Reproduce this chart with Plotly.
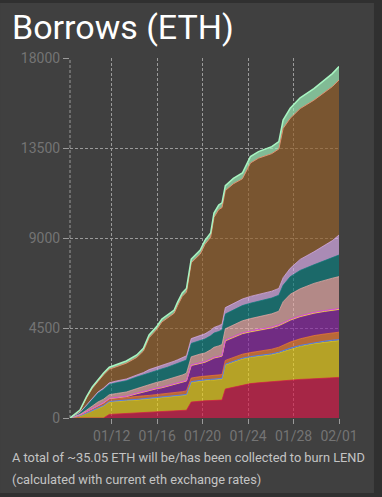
import plotly.graph_objects as go

# ---- data ----
dates = [
    "2020-01-08 08:00", "2020-01-08 17:00", "2020-01-09 05:00", "2020-01-09 19:00",
    "2020-01-10 07:00", "2020-01-10 19:00", "2020-01-11 07:00", "2020-01-11 19:00",
    "2020-01-12 10:00", "2020-01-13 07:00", "2020-01-14 05:00", "2020-01-14 19:00",
    "2020-01-15 07:00", "2020-01-16 00:00", "2020-01-16 10:00", "2020-01-16 22:00",
    "2020-01-17 12:00", "2020-01-17 19:00", "2020-01-18 05:00", "2020-01-18 14:00",
    "2020-01-19 00:00", "2020-01-19 19:00", "2020-01-20 05:00", "2020-01-20 17:00",
    "2020-01-21 00:00", "2020-01-21 10:00", "2020-01-21 17:00", "2020-01-22 00:00",
    "2020-01-22 17:00", "2020-01-23 12:00", "2020-01-24 05:00", "2020-01-24 22:00",
    "2020-01-25 12:00", "2020-01-26 02:00", "2020-01-26 17:00", "2020-01-27 02:00",
    "2020-01-27 17:00", "2020-01-28 14:00", "2020-01-29 19:00", "2020-01-30 17:00",
    "2020-01-31 10:00", "2020-02-01 00:00",
]

red = [0, 0, 0, 0, 0, 0, 0, 180, 200, 220, 240, 260, 270, 290, 300, 320, 340, 350, 370, 390,
       800, 850, 860, 870, 880, 890, 900, 1450, 1530, 1650, 1720, 1760, 1790, 1820, 1850, 1870,
       1900, 1930, 1960, 1990, 2010, 2030]
yellow = [0, 40, 100, 230, 360, 500, 600, 620, 640, 650, 660, 670, 680, 690, 700, 710, 720, 730,
          740, 750, 980, 1000, 1010, 1020, 1025, 1030, 1040, 1200, 1270, 1300, 1310, 1320, 1330,
          1350, 1400, 1450, 1550, 1650, 1760, 1800, 1830, 1840]
blue = [0, 5, 10, 15, 20, 20, 25, 25, 25, 30, 30, 30, 30, 30, 30, 30, 35, 35, 35, 35,
        40, 40, 40, 40, 40, 40, 40, 40, 40, 40, 40, 40, 40, 40, 40, 45, 45, 50, 50, 50, 50, 50]
orange = [0, 10, 30, 60, 80, 100, 110, 120, 120, 130, 140, 150, 150, 160, 160, 170, 170, 170,
          170, 180, 180, 180, 180, 180, 180, 185, 190, 190, 190, 200, 200, 210, 220, 230, 250,
          270, 300, 330, 350, 360, 365, 370]
purple = [0, 0, 0, 0, 0, 0, 0, 0, 0, 20, 120, 170, 230, 280, 300, 330, 380, 400, 430, 470,
          600, 650, 670, 780, 850, 880, 900, 950, 980, 1000, 1010, 1020, 1030, 1040, 1050, 1060,
          1070, 1080, 1090, 1100, 1105, 1110]
gold = [0, 3, 5, 10, 12, 15, 18, 20, 20, 20, 25, 25, 25, 25, 25, 25, 28, 28, 28, 28,
        30, 30, 30, 30, 30, 30, 30, 35, 35, 35, 35, 35, 35, 35, 35, 35, 35, 35, 35, 35, 35, 35]
magenta = [0, 2, 5, 10, 13, 15, 17, 20, 20, 20, 25, 25, 25, 25, 25, 25, 27, 27, 27, 27,
           30, 30, 30, 30, 30, 30, 30, 35, 35, 35, 35, 35, 35, 35, 35, 35, 35, 35, 35, 35, 35, 35]
rose = [0, 10, 30, 70, 120, 150, 170, 180, 200, 210, 230, 250, 280, 290, 300, 310, 330, 340,
        350, 360, 400, 420, 430, 460, 500, 520, 540, 560, 580, 600, 620, 640, 650, 660, 680,
        1050, 1250, 1350, 1450, 1520, 1560, 1600]
teal = [0, 30, 80, 220, 345, 440, 490, 515, 535, 560, 580, 580, 590, 610, 615, 620, 630, 640,
        650, 660, 670, 700, 700, 700, 710, 720, 730, 740, 750, 760, 770, 780, 790, 790, 800,
        820, 880, 920, 930, 980, 1030, 1080]
lavender = [0, 10, 20, 35, 50, 60, 70, 80, 90, 90, 100, 110, 140, 150, 160, 170, 180, 190, 200,
            210, 240, 250, 260, 270, 280, 290, 290, 320, 330, 330, 340, 340, 340, 340, 340, 380,
            420, 550, 650, 760, 850, 1000]
brown = [0, 50, 80, 360, 480, 520, 660, 680, 710, 790, 880, 1080, 1590, 1900, 2185, 2280, 2400,
         2700, 3080, 3190, 3790, 4050, 4470, 4660, 5505, 5805, 5830, 5850, 5970, 6010, 6670, 6810,
         6850, 6880, 6970, 7465, 7500, 7540, 7580, 7640, 7700, 7750]
mint = [0, 20, 40, 60, 70, 80, 90, 100, 100, 110, 120, 130, 140, 150, 150, 160, 160, 170, 170,
        180, 190, 200, 200, 210, 220, 230, 240, 250, 270, 290, 320, 330, 340, 350, 370, 420, 500,
        540, 580, 620, 650, 670]

y_ticks = [0, 4500, 9000, 13500, 18000]
y_tick_labels = ["0", "4500", "9000", "13500", "18000"]
title_text = "Borrows (ETH)"
note_line1 = "A total of ~35.05 ETH will be/has been collected to burn LEND"
note_line2 = "(calculated with current eth exchange rates)"

# ---- styles ----
layers = [
    (red, "rgba(218,24,73,0.66)", "rgba(218,24,73,0.9)", 0.8),
    (yellow, "rgba(242,212,24,0.66)", "rgba(242,212,24,0.9)", 0.8),
    (blue, "rgba(80,120,230,0.66)", "#5a82e6", 1),
    (orange, "rgba(247,126,50,0.66)", "rgba(247,126,50,0.9)", 0.8),
    (purple, "rgba(138,33,166,0.66)", "rgba(138,33,166,0.9)", 0.8),
    (gold, "rgba(240,220,60,0.7)", "#f0dc3c", 1),
    (magenta, "rgba(220,70,220,0.7)", "#dc50dc", 1),
    (rose, "rgba(239,175,172,0.66)", "rgba(239,175,172,0.9)", 0.8),
    (teal, "rgba(7,126,126,0.66)", "rgba(7,126,126,0.9)", 0.8),
    (lavender, "rgba(224,178,242,0.66)", "rgba(224,178,242,0.9)", 0.8),
    (brown, "rgba(150,96,39,0.66)", "#e0906e", 1),
    (mint, "rgba(163,250,193,0.66)", "#a8f5c2", 1.5),
]

BG = "#404040"
GRID = "#9a9a9a"
TICKC = "#747474"

fig = go.Figure()
for vals, fillc, linec, lw in layers:
    fig.add_trace(go.Scatter(
        x=dates, y=vals, mode="lines", stackgroup="one",
        fillcolor=fillc, line=dict(color=linec, width=lw),
        hoverinfo="skip",
    ))

fig.update_layout(
    width=382, height=497,
    margin=dict(l=70, r=43, t=58, b=79, pad=0),
    paper_bgcolor="#303030",
    plot_bgcolor=BG,
    showlegend=False,
    font=dict(family="Roboto", color=TICKC, size=14),
)

fig.update_xaxes(
    type="date",
    range=["2020-01-08 08:00", "2020-02-01 00:00:30"],
    tick0="2020-01-12", dtick=4 * 86400000, tickformat="%m/%d",
    ticks="outside", ticklen=5, tickwidth=1, tickcolor=GRID,
    tickfont=dict(family="Roboto", size=14, color=TICKC),
    showgrid=True, gridcolor=GRID, griddash="3px,2px", gridwidth=1,
    showline=False, zeroline=False,
)
fig.update_yaxes(
    range=[0, 18000], tickvals=y_ticks, ticktext=y_tick_labels,
    ticks="outside", ticklen=6, tickwidth=1, tickcolor=GRID,
    tickfont=dict(family="Roboto", size=14, color=TICKC),
    showgrid=True, gridcolor=GRID, griddash="3px,2px", gridwidth=1,
    showline=False, zeroline=False,
)

# card background and left dashed border of the plot area
fig.add_shape(type="rect", xref="paper", yref="paper",
              x0=-0.2602, x1=1.1301, y0=-0.2083, y1=1.1528,
              fillcolor=BG, line=dict(width=0), layer="below")
fig.add_shape(type="line", xref="paper", yref="paper",
              x0=0, x1=0, y0=0, y1=1,
              line=dict(color=GRID, width=1, dash="3px,2px"), layer="below")

fig.add_annotation(text=title_text, xref="paper", yref="paper",
                   x=-0.223, y=1.0875, xanchor="left", yanchor="middle",
                   showarrow=False, font=dict(family="Roboto", size=34, color="#ffffff"))
fig.add_annotation(text=note_line1, xref="paper", yref="paper",
                   x=-0.223, y=-0.1111, xanchor="left", yanchor="middle",
                   showarrow=False, font=dict(family="Roboto", size=12.8, color="#c4c4c4"))
fig.add_annotation(text=note_line2, xref="paper", yref="paper",
                   x=-0.223, y=-0.1708, xanchor="left", yanchor="middle",
                   showarrow=False, font=dict(family="Roboto", size=12.8, color="#c4c4c4"))

fig.write_html("out.html", config={"displayModeBar": False},
               post_script="document.body.style.margin='0px';document.body.style.overflow='hidden';")
